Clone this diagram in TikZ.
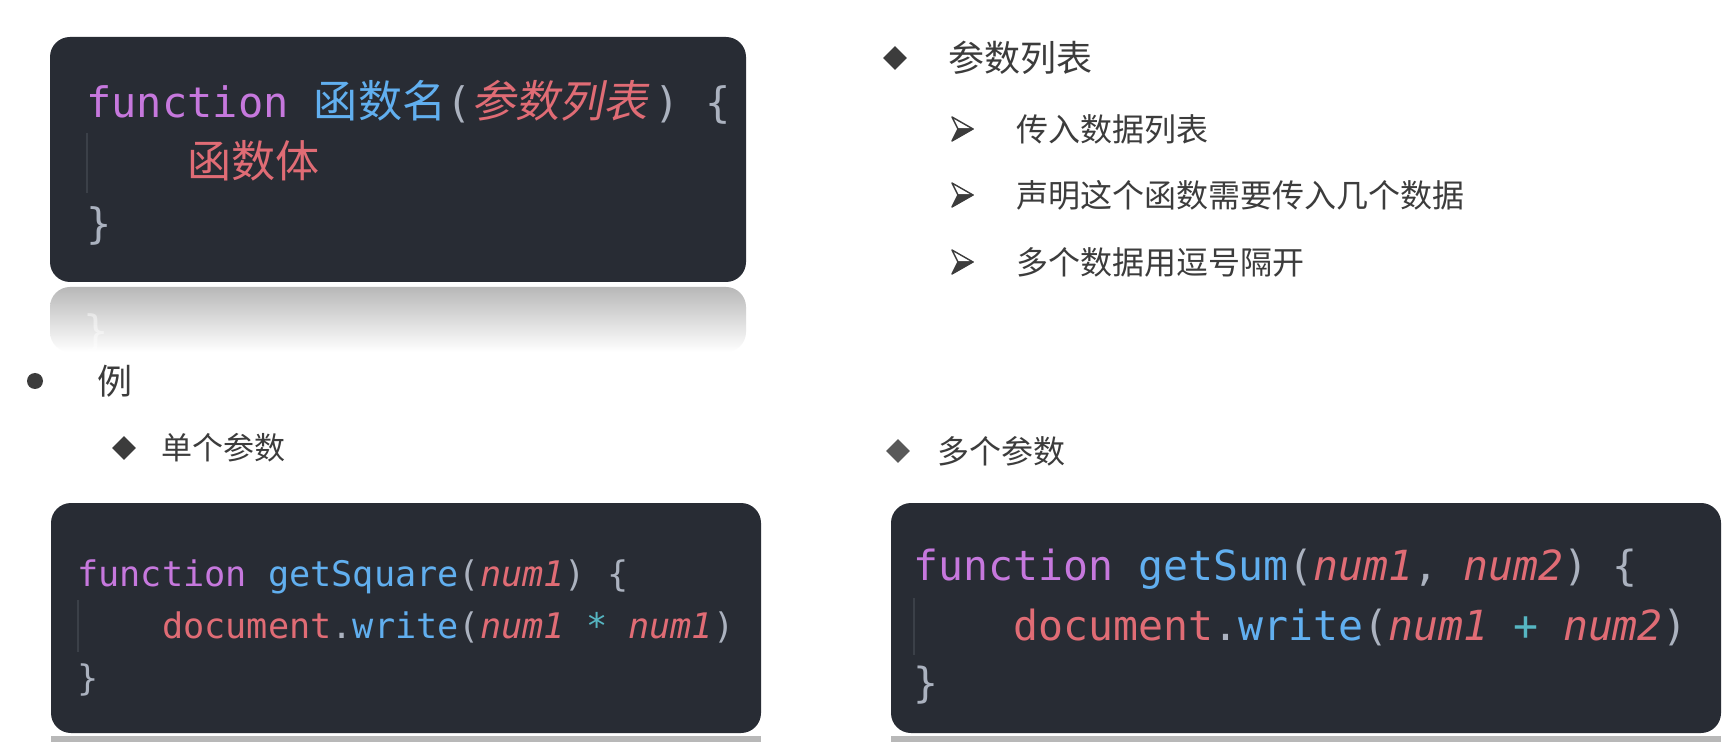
\documentclass[tikz,border=0pt]{standalone}
\usepackage{fontspec}
\usetikzlibrary{shapes.geometric}
\newfontfamily\codefont{DejaVu Sans Mono}[ItalicFont={DejaVu Sans Mono Oblique}]
\newfontfamily\cjkfont{Noto Sans CJK SC}
\newfontfamily\cjkcode{Noto Sans CJK SC}[Scale=1.05]
\newfontfamily\cjkslant{Noto Sans CJK SC}[Scale=1.05,FakeSlant=0.2]
\definecolor{codebg}{HTML}{282C34}
\definecolor{kw}{HTML}{C678DD}
\definecolor{fn}{HTML}{61AFEF}
\definecolor{par}{HTML}{E06C75}
\definecolor{punct}{HTML}{ABB2BF}
\definecolor{op}{HTML}{56B6C2}
\definecolor{guideline}{HTML}{3B4048}
\definecolor{ink}{HTML}{3C3C3C}
\definecolor{inklight}{HTML}{595959}
\definecolor{refgray}{HTML}{B8B8B8}
\tikzset{
  codebox/.style={fill=codebg, rounded corners=10pt},
  codeline/.style={anchor=base west, inner sep=0pt, text=punct},
  guide/.style={draw=guideline, line width=0.8pt},
  bullettext/.style={anchor=west, inner sep=0pt, text=ink},
  bulletdiamond/.style={diamond, fill=ink, inner sep=0pt, minimum width=12pt, minimum height=12pt},
}
\def\arrowmark(#1){%
  \begin{scope}[shift={(#1)}]
    \draw[ink, line width=0.7pt, line join=round, fill=white] (11,0) -- (-10,-12) -- (-4,0) -- cycle;
    \draw[ink, line width=0.7pt, line join=round, fill=ink] (11,0) -- (-4,0) -- (-10,12) -- cycle;
  \end{scope}}

\begin{document}
\begin{tikzpicture}[x=0.5pt, y=-0.5pt]
			%%%%% START %%%%%
			\useasboundingbox (0, 0) rectangle (1727, 742);
			\fill[white] (0, 0) rectangle (1727, 742);
			
			% syntax box and its reflection
			\shade[top color=refgray, bottom color=white, rounded corners=10pt] (50, 287) rectangle (746, 352);
			\node[text=white, opacity=0.45, yscale=-1, inner sep=0pt, font=\codefont\fontsize{21}{25}\selectfont] (mirror) at (96, 333) {\}};
			\fill[codebox] (50, 37) rectangle (746, 282);
			\draw[guide] (87, 133) -- (87, 193);
			\node[codeline, font=\codefont\fontsize{21}{25}\selectfont] (sig) at (86, 118) {{\color{kw}function} {\cjkcode\color{fn}函数名}({\cjkslant\color{par}参数列表}\kern3.5pt) \{};
			\node[codeline, font=\codefont\fontsize{21}{25}\selectfont] (body) at (86, 178) {\hphantom{0000}{\cjkcode\color{par}函数体}};
			\node[codeline, font=\codefont\fontsize{21}{25}\selectfont] (close) at (86, 239) {\}};
			
			% parameter list notes
			\node[bulletdiamond] (dhead) at (895, 58) {};
			\node[bullettext, font=\cjkfont\fontsize{18}{22}\selectfont] (head) at (948, 58) {参数列表};
			\arrowmark(962, 129)
			\node[bullettext, font=\cjkfont\fontsize{16}{20}\selectfont] (itema) at (1016, 129) {传入数据列表};
			\arrowmark(962, 195)
			\node[bullettext, font=\cjkfont\fontsize{16}{20}\selectfont] (itemb) at (1016, 195) {声明这个函数需要传入几个数据};
			\arrowmark(962, 262)
			\node[bullettext, font=\cjkfont\fontsize{16}{20}\selectfont] (itemc) at (1016, 262) {多个数据用逗号隔开};
			
			% example
			\fill[ink] (35, 381) circle (8);
			\node[bullettext, font=\cjkfont\fontsize{17.5}{20}\selectfont] (example) at (97, 381) {例};
			\node[bulletdiamond, fill=ink] (done) at (124, 448) {};
			\node[bullettext, font=\cjkfont\fontsize{15.5}{19}\selectfont] (single) at (161, 448) {单个参数};
			\node[bulletdiamond, fill=inklight] (dmany) at (898, 451) {};
			\node[bullettext, font=\cjkfont\fontsize{16}{19}\selectfont] (many) at (937, 451) {多个参数};
			
			% getSquare box
			\fill[refgray] (51, 736) rectangle (761, 742);
			\fill[codebox] (51, 503) rectangle (761, 733);
			\draw[guide] (78, 600) -- (78, 652);
			\node[codeline, font=\codefont\fontsize{17.6}{21}\selectfont] (sqa) at (77, 586) {{\color{kw}function} {\color{fn}getSquare}(\textit{\color{par}num1}) \{};
			\node[codeline, font=\codefont\fontsize{17.6}{21}\selectfont] (sqb) at (77, 638) {\hphantom{0000}{\color{par}document}.{\color{fn}write}(\textit{\color{par}num1} {\color{op}*} \textit{\color{par}num1})};
			\node[codeline, font=\codefont\fontsize{17.6}{21}\selectfont] (sqc) at (77, 690) {\}};
			
			% getSum box
			\fill[refgray] (891, 736) rectangle (1721, 742);
			\fill[codebox] (891, 503) rectangle (1721, 733);
			\draw[guide] (914, 598) -- (914, 655);
			\node[codeline, font=\codefont\fontsize{20.75}{25}\selectfont] (suma) at (913, 580) {{\color{kw}function} {\color{fn}getSum}(\textit{\color{par}num1}, \textit{\color{par}num2}) \{};
			\node[codeline, font=\codefont\fontsize{20.75}{25}\selectfont] (sumb) at (913, 640) {\hphantom{0000}{\color{par}document}.{\color{fn}write}(\textit{\color{par}num1} {\color{op}+} \textit{\color{par}num2})};
			\node[codeline, font=\codefont\fontsize{20.75}{25}\selectfont] (sumc) at (913, 697) {\}};
			
			%%%%% END %%%%%
\end{tikzpicture}
\end{document}
